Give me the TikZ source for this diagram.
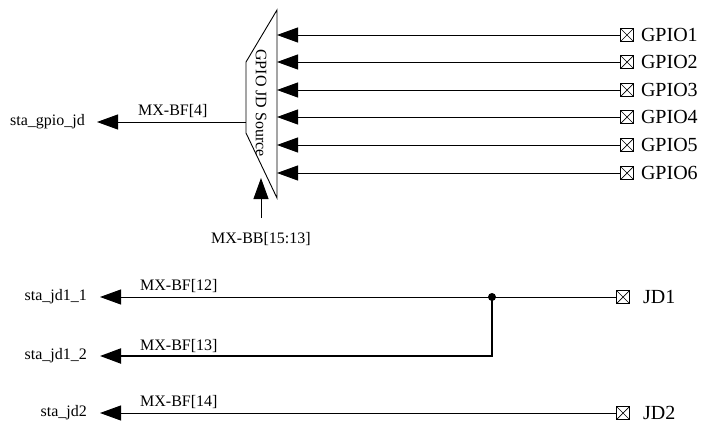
\documentclass[tikz,border=0pt]{standalone}
\usepackage{fontspec}
\setmainfont{Liberation Serif}
\usetikzlibrary{arrows.meta,positioning}
\tikzset{
  arr/.style={-{Triangle[length=21pt,width=15pt]}, line width=0.9pt},
  port/.style={draw, line width=0.7pt, minimum size=13pt, inner sep=0pt,
    path picture={\draw (path picture bounding box.north west)--(path picture bounding box.south east)
      (path picture bounding box.south west)--(path picture bounding box.north east);}},
  sig/.style={font=\fontsize{16}{18}\selectfont, inner sep=0pt},
  pin/.style={font=\fontsize{20}{22}\selectfont, inner sep=0pt}
}
\begin{document}
\begin{tikzpicture}[x=1pt,y=-1pt]
    \useasboundingbox (0,0) rectangle (705,423);
    % mux
    \draw[line width=0.9pt] (277,10) -- (277,198) -- (246,133) -- (246,62) -- cycle;
    \node[sig, rotate=-90] (srclbl) at (261,103) {GPIO JD Source};
    \coordinate (srcR) at (277,0);
    \coordinate (srcL) at (246,122);
    % gpio pins
    \foreach \i/\y in {1/35,2/62,3/90,4/117,5/145,6/173}{
        \node[port] (g\i) at (627,\y) {};
        \node[pin, right=7pt of g\i] (gl\i) {GPIO\i};
        \draw[arr] (g\i.west) -- (g\i.west -| srcR);
    }
    % output
    \coordinate (gjT) at (97,122);
    \draw[arr] (srcL) -- (gjT);
    \node[sig, left=12pt of gjT] (gj) {sta\_gpio\_jd};
    \node[sig, above right=4pt and 41pt of gjT] (bf4) {MX-BF[4]};
    % select
    \coordinate (selB) at (261,218);
    \coordinate (selT) at (261,178);
    \draw[arr] (selB) -- (selT);
    \node[sig, below=14pt of selB] (bb) {MX-BB[15:13]};
    % jd pins
    \node[port] (jd1) at (623,297) {};
    \node[pin, right=13pt of jd1] (jl1) {JD1};
    \node[port] (jd2) at (623,413) {};
    \node[pin, right=13pt of jd2] (jl2) {JD2};
    \node[circle, fill, inner sep=0pt, minimum size=8pt] (tap) at (492,297) {};
    \coordinate (t11) at (100,297);
    \coordinate (t12) at (100,356);
    \coordinate (t2) at (100,413);
    \draw[line width=0.9pt] (jd1.west) -- (tap.center);
    \draw[arr] (tap.center) -- (t11);
    \draw[arr, line width=2pt] (tap.center) |- (t12);
    \draw[arr] (jd2.west) -- (t2);
    \node[sig, left=13pt of t11] (s11) {sta\_jd1\_1};
    \node[sig, left=13pt of t12] (s12) {sta\_jd1\_2};
    \node[sig, left=13pt of t2] (s2) {sta\_jd2};
    \node[sig, above right=4pt and 40pt of t11] (bf12) {MX-BF[12]};
    \node[sig, above right=3pt and 40pt of t12] (bf13) {MX-BF[13]};
    \node[sig, above right=4pt and 40pt of t2] (bf14) {MX-BF[14]};
\end{tikzpicture}
\end{document}
